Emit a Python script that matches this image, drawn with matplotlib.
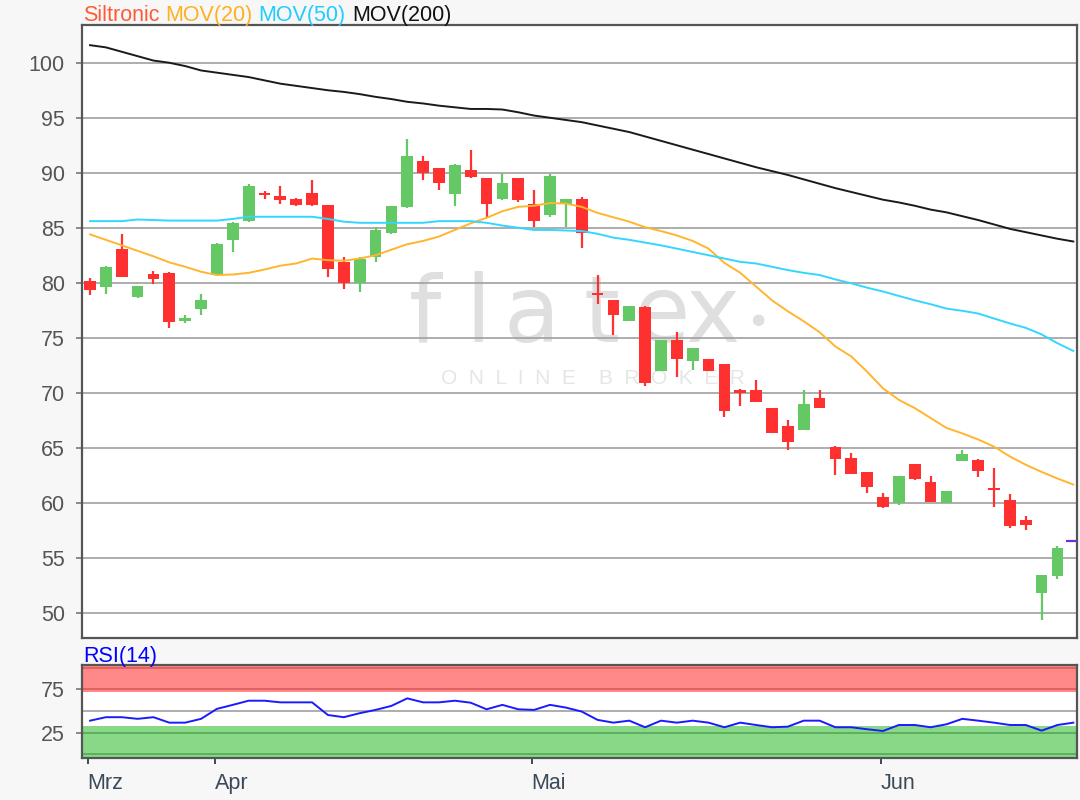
import matplotlib
matplotlib.use("Agg")
import matplotlib.pyplot as plt
import numpy as np

plt.rcParams["font.family"] = ["Liberation Sans", "DejaVu Sans"]

# daily candles (trading-day index 0..61)
opens = [80.2, 79.6, 83.1, 78.7, 80.75, 80.9, 76.5, 77.6, 80.7, 83.9,
         85.6, 88.2, 87.85, 87.65, 88.2, 87.1, 81.9, 79.95, 82.35, 84.5,
         86.85, 91.1, 90.4, 88.1, 90.25, 89.5, 87.6, 89.5, 87.15, 86.15,
         87.2, 87.65, 79.1, 78.4, 76.55, 77.8, 72.0, 74.75, 72.85, 73.1,
         72.6, 70.25, 70.25, 68.6, 67.0, 66.65, 69.5, 65.1, 64.05, 62.75,
         60.55, 59.95, 63.5, 61.9, 60.0, 63.8, 63.9, 61.3, 60.25, 58.45,
         51.75, 53.35]
highs = [80.4, 81.5, 84.4, 79.7, 81.1, 81.0, 77.1, 79.0, 83.6, 85.5,
         89.0, 88.3, 88.8, 87.7, 89.35, 87.1, 82.35, 82.35, 85.1, 87.0,
         93.1, 91.5, 90.4, 90.8, 92.05, 89.5, 89.95, 89.5, 88.4, 89.9,
         87.6, 87.8, 80.7, 78.4, 77.9, 77.85, 74.75, 75.5, 74.05, 73.1,
         72.6, 70.3, 71.15, 68.6, 67.5, 70.25, 70.25, 65.15, 64.55, 62.8,
         60.9, 62.45, 63.5, 62.45, 61.1, 64.8, 64.0, 63.15, 60.75, 58.8,
         53.45, 56.05]
lows = [78.9, 79.0, 80.5, 78.6, 79.9, 75.9, 76.3, 77.1, 80.6, 82.8,
        85.5, 87.6, 87.2, 87.0, 87.0, 80.5, 79.4, 79.2, 81.9, 84.4,
        86.8, 89.3, 88.4, 87.0, 89.55, 85.85, 87.55, 87.35, 85.1, 86.0,
        85.1, 83.2, 78.1, 75.25, 76.5, 70.65, 71.95, 71.4, 72.1, 71.95,
        67.75, 68.8, 69.15, 66.3, 64.8, 66.6, 68.6, 62.5, 62.6, 60.9,
        59.55, 59.8, 62.1, 60.05, 60.0, 63.75, 62.3, 59.6, 57.7, 57.5,
        49.35, 53.1]
closes = [79.3, 81.45, 80.55, 79.7, 80.3, 76.45, 76.75, 78.4, 83.5, 85.45,
          88.8, 87.95, 87.5, 87.05, 87.05, 81.25, 79.95, 82.2, 84.8, 87.0,
          91.5, 89.95, 89.05, 90.75, 89.6, 87.2, 89.1, 87.5, 85.6, 89.7,
          87.6, 84.5, 78.9, 77.05, 77.9, 70.85, 74.75, 73.05, 74.05, 72.0,
          68.3, 70.0, 69.2, 66.3, 65.55, 69.0, 68.65, 63.95, 62.65, 61.4,
          59.6, 62.45, 62.15, 60.1, 61.1, 64.45, 62.85, 61.15, 57.9, 58.0,
          53.45, 55.85]
last_price = 56.5

# moving averages and RSI (index 0..62)
mov20 = [84.4, 83.9, 83.4, 82.9, 82.4, 81.85, 81.45, 81.0, 80.7, 80.75,
         80.9, 81.2, 81.55, 81.75, 82.2, 82.05, 82.0, 82.2, 82.5, 83.0,
         83.5, 83.8, 84.2, 84.8, 85.4, 85.9, 86.5, 86.9, 87.0, 87.25,
         87.2, 86.9, 86.35, 85.95, 85.55, 85.05, 84.7, 84.3, 83.8, 83.1,
         81.8, 80.9, 79.65, 78.4, 77.4, 76.5, 75.5, 74.2, 73.3, 71.9,
         70.4, 69.35, 68.6, 67.7, 66.8, 66.3, 65.75, 65.1, 64.2, 63.45,
         62.8, 62.2, 61.65]
mov50 = [85.6, 85.6, 85.6, 85.75, 85.7, 85.65, 85.65, 85.65, 85.65, 85.8,
         86.0, 86.0, 86.0, 86.0, 86.0, 85.8, 85.55, 85.45, 85.45, 85.45,
         85.45, 85.45, 85.6, 85.6, 85.6, 85.45, 85.2, 85.0, 84.8, 84.8,
         84.75, 84.7, 84.45, 84.1, 83.9, 83.65, 83.4, 83.1, 82.8, 82.5,
         82.2, 81.9, 81.75, 81.45, 81.15, 80.9, 80.7, 80.3, 79.95, 79.55,
         79.2, 78.8, 78.4, 78.05, 77.65, 77.45, 77.2, 76.75, 76.3, 75.9,
         75.3, 74.5, 73.8]
mov200 = [101.6, 101.4, 101.0, 100.6, 100.2, 100.0, 99.7, 99.3, 99.1, 98.9,
          98.7, 98.4, 98.1, 97.9, 97.7, 97.5, 97.35, 97.15, 96.9, 96.7,
          96.45, 96.3, 96.1, 95.95, 95.8, 95.8, 95.75, 95.5, 95.2, 95.0,
          94.8, 94.6, 94.3, 94.0, 93.7, 93.3, 92.9, 92.5, 92.1, 91.7,
          91.3, 90.9, 90.5, 90.15, 89.8, 89.4, 89.0, 88.6, 88.25, 87.9,
          87.55, 87.3, 87.0, 86.65, 86.4, 86.05, 85.7, 85.3, 84.9, 84.6,
          84.3, 84.0, 83.75]
rsi = [38.9, 42.9, 42.9, 41.0, 42.9, 36.6, 36.6, 41.0, 52.5, 57.1,
       61.9, 61.9, 60.0, 60.0, 60.0, 45.4, 42.9, 47.5, 51.3, 55.9,
       64.6, 60.0, 60.0, 61.9, 59.6, 52.0, 57.1, 52.0, 51.3, 57.1,
       54.0, 49.4, 39.8, 36.6, 38.9, 31.3, 38.9, 36.6, 38.9, 36.6,
       31.3, 36.6, 33.9, 31.3, 32.0, 38.9, 38.9, 31.3, 31.3, 29.0,
       27.0, 33.9, 33.9, 31.3, 34.7, 41.0, 38.9, 36.6, 33.9, 33.9,
       27.4, 33.9, 36.6]

month_labels = ["Mrz", "Apr", "Mai", "Jun"]
month_start = [0, 8, 28, 50]

FS = 15.5
RED = "#ff3030"
GREEN = "#64c864"
WM = "#dfdfdf"

fig = plt.figure(figsize=(10.8, 8), dpi=100, facecolor="#f7f7f7")
ax = fig.add_axes([0.0756, 0.2021, 0.9216, 0.7666])
rsi_ax = fig.add_axes([0.0756, 0.0521, 0.9216, 0.1166], sharex=ax)

xlim = (-0.53, 62.23)

# --- price panel
idx = np.arange(len(closes))
o = np.array(opens)
c = np.array(closes)
colors = [GREEN if cc >= oo else RED for oo, cc in zip(o, c)]
ax.vlines(idx, lows, highs, colors=colors, lw=1.6, zorder=3)
ax.bar(idx, np.abs(c - o), bottom=np.minimum(o, c), width=0.74,
       color=colors, zorder=4)

ma_x = np.arange(len(mov20))
ax.plot(ma_x, mov20, color="#ffb52e", lw=1.4, zorder=5)
ax.plot(ma_x, mov50, color="#33d6ff", lw=1.4, zorder=5)
ax.plot(ma_x, mov200, color="#1a1a1a", lw=1.4, zorder=5)
ax.hlines(last_price, len(closes) - 0.45, xlim[1], color="#6633dd", lw=1.6,
          zorder=5)

ax.set_xlim(*xlim)
ax.set_ylim(47.67, 103.43)
ax.set_yticks(np.arange(50, 101, 5))
for v in np.arange(50, 101, 5):
    ax.axhline(v, color="#a0a0a0", lw=1.2, zorder=1)

# watermark, letter by letter to get the wide spacing of the logo
for ch, xf in zip("flatex", [0.345, 0.398, 0.452, 0.522, 0.583, 0.634]):
    ax.text(xf, 0.483, ch, transform=ax.transAxes, ha="center",
            va="baseline", fontsize=66, color=WM, family="DejaVu Sans",
            zorder=0.5)
ax.text(0.679, 0.52, "\u25cf", transform=ax.transAxes, ha="center",
        va="center", fontsize=11, color=WM, family="DejaVu Sans", zorder=0.5)
ax.text(0.514, 0.424, "O  N  L  I  N  E    B  R  O  K  E  R",
        transform=ax.transAxes, ha="center", va="center", fontsize=15,
        color="#e6e6e6", zorder=0.5)

ax.tick_params(axis="y", length=4, width=1.2, color="#777777", pad=8,
               labelsize=FS, labelcolor="#555555")
ax.tick_params(axis="x", bottom=False, labelbottom=False)

# legend-like title
t = ax.annotate("Siltronic", xy=(0, 1), xycoords="axes fraction",
                xytext=(1, 3), textcoords="offset points", va="baseline",
                fontsize=FS, color="#ff5a36")
for word, col in [("MOV(20)", "#ffb020"), ("MOV(50)", "#22ccff"),
                  ("MOV(200)", "#111111")]:
    t = ax.annotate(word, xy=(1, 0), xycoords=t, xytext=(4.3, 0),
                    textcoords="offset points", va="bottom", fontsize=FS,
                    color=col)

# --- RSI panel
rsi_ax.set_ylim(-4.5, 103)
rsi_ax.axhspan(72, 103, color="#ff8888", lw=0, zorder=0.5)
rsi_ax.axhspan(-4.5, 32.5, color="#88d888", lw=0, zorder=0.5)
rsi_ax.axhline(100, color="#dd5a5a", lw=1.2, zorder=1)
rsi_ax.axhline(75, color="#dd5a5a", lw=1.2, zorder=1)
rsi_ax.axhline(50, color="#a0a0a0", lw=1.2, zorder=1)
rsi_ax.axhline(25, color="#55a855", lw=1.2, zorder=1)
rsi_ax.axhline(0, color="#55a855", lw=1.2, zorder=1)
rsi_ax.plot(np.arange(len(rsi)), rsi, color="#1a1aff", lw=1.4, zorder=3)
rsi_ax.set_yticks([25, 75])
rsi_ax.tick_params(axis="y", length=4, width=1.2, color="#777777", pad=8,
                   labelsize=FS, labelcolor="#555555")
rsi_ax.set_xticks(np.array(month_start) - 0.15)
rsi_ax.set_xticklabels(month_labels, ha="left")
rsi_ax.tick_params(axis="x", length=4.5, width=1.4, color="#3a4a5a", pad=6,
                   labelsize=FS, labelcolor="#3a4a5a")
rsi_ax.annotate("RSI(14)", xy=(0, 1), xycoords="axes fraction",
                xytext=(1, 2.5), textcoords="offset points", va="baseline",
                fontsize=FS, color="#0000ff")

for a in (ax, rsi_ax):
    a.set_facecolor("white")
    for s in a.spines.values():
        s.set_color("#555555")
        s.set_linewidth(1.6)

fig.savefig("out.png", dpi=100, facecolor=fig.get_facecolor())
